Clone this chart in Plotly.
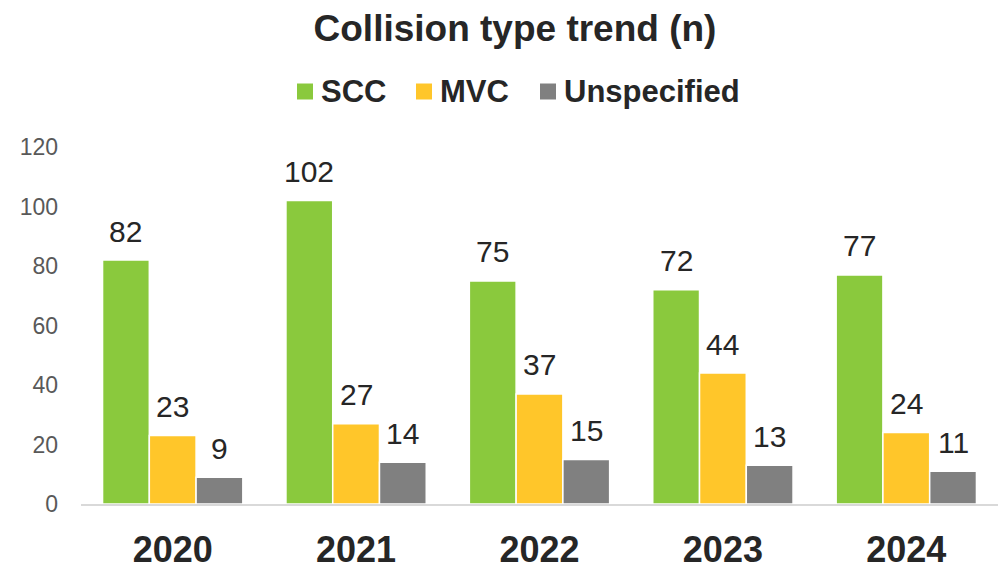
import plotly.graph_objects as go

years = ["2020", "2021", "2022", "2023", "2024"]
scc = [82, 102, 75, 72, 77]
mvc = [23, 27, 37, 44, 24]
unspecified = [9, 14, 15, 13, 11]

series = [
    ("SCC", scc, "#8AC93D"),
    ("MVC", mvc, "#FFC62A"),
    ("Unspecified", unspecified, "#808080"),
]
# legend item left edges in pixels (layout only)
legend_px = [297, 416, 540]

W, H = 999, 569
ML, MR, MT, MB = 81, 1, 147, 65
PW, PH = W - ML - MR, H - MT - MB
BARGAP = 0.235
FONT = "Liberation Sans, Arial"

fig = go.Figure()
for name, vals, color in series:
    fig.add_trace(go.Bar(
        x=years, y=vals, name=name, showlegend=False,
        marker=dict(color=color, line=dict(color="white", width=1.5)),
        cliponaxis=False,
    ))

# data labels as annotations placed on the grouped-bar positions
bw = (1 - BARGAP) / len(series)
annotations = []
shapes = []
for i, (name, vals, color) in enumerate(series):
    off = (i - (len(series) - 1) / 2) * bw
    for j, v in enumerate(vals):
        annotations.append(dict(
            x=j + off, y=v, xref="x", yref="y", text=str(v), showarrow=False,
            yanchor="middle", xanchor="center", yshift=29,
            font=dict(family=FONT, size=30, color="#262626"),
        ))

# custom legend (squares + labels) above plot
leg_cy = 91.5
for (name, vals, color), px in zip(series, legend_px):
    shapes.append(dict(
        type="rect", xref="paper", yref="paper",
        x0=(px - ML) / PW, x1=(px + 16 - ML) / PW,
        y0=(H - MB - (leg_cy + 8)) / PH, y1=(H - MB - (leg_cy - 8)) / PH,
        fillcolor=color, line=dict(width=0),
    ))
    annotations.append(dict(
        x=(px + 22 - ML) / PW, y=(H - MB - leg_cy) / PH, xref="paper", yref="paper",
        text="<b>" + name + "</b>", showarrow=False, xanchor="left", yanchor="middle",
        font=dict(family=FONT, size=31, color="#262626"),
    ))

fig.update_layout(
    width=W, height=H,
    barmode="group", bargap=BARGAP, bargroupgap=0,
    plot_bgcolor="white", paper_bgcolor="white",
    margin=dict(l=ML, r=MR, t=MT, b=MB),
    font=dict(family=FONT),
    annotations=annotations,
    shapes=shapes,
    showlegend=False,
    title=dict(text="<b>Collision type trend (n)</b>", x=515 / W, xanchor="center",
               y=1 - 28 / H, yanchor="middle", yref="container",
               font=dict(size=37, color="#262626")),
    xaxis=dict(showline=True, linecolor="#D9D9D9", linewidth=1.5, ticks="",
               automargin=False,
               tickfont=dict(size=36, color="#262626", family=FONT, weight="bold"),
               ticklabelstandoff=13),
    yaxis=dict(range=[0, 120], dtick=20, showgrid=False, zeroline=False, showline=False,
               automargin=False,
               tickfont=dict(size=23, color="#595959", family=FONT), ticklabelstandoff=22),
)

fig.write_html("out.html", config={"displayModeBar": False},
               post_script="document.body.style.margin='0';")
